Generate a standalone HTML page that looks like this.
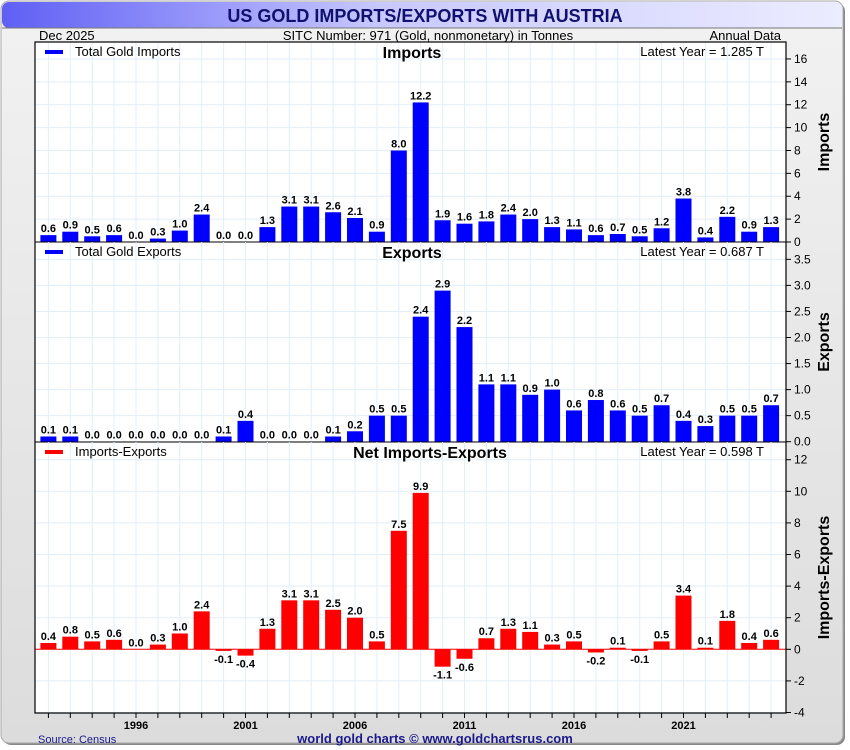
<!DOCTYPE html>
<html><head><meta charset="utf-8"><style>
body{margin:0;background:#fff;font-family:"Liberation Sans",sans-serif}
svg{display:block}
</style></head><body>
<svg id="c" width="850" height="750" xmlns="http://www.w3.org/2000/svg">
<defs>
<linearGradient id="tg" x1="0" x2="1"><stop offset="0" stop-color="#5f5ff5"/><stop offset="0.45" stop-color="#c8c8ff"/><stop offset="1" stop-color="#ececff"/></linearGradient>
<linearGradient id="bg" x1="0" x2="0" y1="0" y2="1"><stop offset="0" stop-color="#f2f2f2"/><stop offset="1" stop-color="#dcdcdc"/></linearGradient>
</defs>
<rect x="3" y="3" width="842" height="742" rx="8" fill="#888"/>
<rect x="1" y="1" width="842" height="742" rx="8" fill="url(#bg)" stroke="#aaa"/>
<rect x="2" y="2" width="840" height="26" rx="7" fill="url(#tg)"/>
<line x1="2" y1="28" x2="842" y2="28" stroke="#777"/>
<text x="425" y="22" text-anchor="middle" font-size="18" font-weight="bold" fill="#10106e">US GOLD IMPORTS/EXPORTS WITH AUSTRIA</text>
<text x="39" y="40" font-size="13" fill="#000">Dec  2025</text>
<text x="428" y="40" text-anchor="middle" font-size="13">SITC Number: 971 (Gold, nonmonetary) in Tonnes</text>
<text x="781" y="40" text-anchor="end" font-size="13">Annual Data</text>
<rect x="35" y="42" width="751" height="671" fill="#fff"/>
<g id="g"></g>
<text x="38" y="743" font-size="11" fill="#1a1a8c">Source: Census</text>
<text x="435" y="743" text-anchor="middle" font-size="13" font-weight="bold" fill="#1a1a8c">world gold charts © www.goldchartsrus.com</text>
</svg>
<script>
const years=[1992,1993,1994,1995,1996,1997,1998,1999,2000,2001,2002,2003,2004,2005,2006,2007,2008,2009,2010,2011,2012,2013,2014,2015,2016,2017,2018,2019,2020,2021,2022,2023,2024,2025];
const imports=[0.6,0.9,0.5,0.6,0.0,0.3,1.0,2.4,0.0,0.0,1.3,3.1,3.1,2.6,2.1,0.9,8.0,12.2,1.9,1.6,1.8,2.4,2.0,1.3,1.1,0.6,0.7,0.5,1.2,3.8,0.4,2.2,0.9,1.3];
const exportsV=[0.1,0.1,0.0,0.0,0.0,0.0,0.0,0.0,0.1,0.4,0.0,0.0,0.0,0.1,0.2,0.5,0.5,2.4,2.9,2.2,1.1,1.1,0.9,1.0,0.6,0.8,0.6,0.5,0.7,0.4,0.3,0.5,0.5,0.7];
const net=[0.4,0.8,0.5,0.6,0.0,0.3,1.0,2.4,-0.1,-0.4,1.3,3.1,3.1,2.5,2.0,0.5,7.5,9.9,-1.1,-0.6,0.7,1.3,1.1,0.3,0.5,-0.2,0.1,-0.1,0.5,3.4,0.1,1.8,0.4,0.6];
const impTicks=[0,2,4,6,8,10,12,14,16];
const expTicks=[0,0.5,1,1.5,2,2.5,3,3.5];
const netTicks=[-4,-2,0,2,4,6,8,10,12];
const yearLabels=[1996,2001,2006,2011,2016,2021];
const NS="http://www.w3.org/2000/svg";
const g=document.getElementById('g');
const L=35,R=786;
function x(yr){return 48.4+(yr-1992)*21.9;}
function mk(t,a,p){const e=document.createElementNS(NS,t);for(const k in a)e.setAttribute(k,a[k]);(p||g).appendChild(e);return e;}
const panels=[
 {vals:imports,ticks:impTicks,top:42,bot:242,zero:242,ppu:11.44,color:'#0000ff',fmt:v=>v,name:'imports',title:'Imports',legend:'Total Gold Imports',latest:'Latest Year = 1.285 T',axis:'Imports'},
 {vals:exportsV,ticks:expTicks,top:242,bot:442,zero:441.7,ppu:52.1,color:'#0000ff',fmt:v=>v.toFixed(1),name:'exports',title:'Exports',legend:'Total Gold Exports',latest:'Latest Year = 0.687 T',axis:'Exports'},
 {vals:net,ticks:netTicks,top:442,bot:713,zero:649.3,ppu:15.8,color:'#ff0000',fmt:v=>v,name:'net',title:'Net Imports-Exports',legend:'Imports-Exports',latest:'Latest Year = 0.598 T',axis:'Imports-Exports'}
];
panels.forEach(p=>{
 const y=v=>p.zero-v*p.ppu;
 years.forEach(yr=>{const l=mk('line',{x1:x(yr),x2:x(yr),y1:p.top,y2:p.bot,stroke:'#e2eef8'});});
 p.ticks.forEach(t=>{const yy=y(t);
  if(yy>p.top+1){const l=mk('line',{x1:L,x2:R,y1:yy,y2:yy,stroke:'#e2eef8'});}
  mk('line',{x1:R,x2:R+5,y1:yy,y2:yy,stroke:'#000'});
  const tl=mk('text',{x:R+8,y:yy+4,'font-size':12});tl.textContent=p.fmt(t);
  
 });
 p.vals.forEach((v,i)=>{
  const cx=x(years[i]),y0=y(0),y1=y(v);
  const b=mk('rect',{x:cx-8,y:Math.min(y0,y1),width:16,height:Math.max(Math.abs(y1-y0),v===0?0:1),fill:p.color});
  
  const t=mk('text',{x:cx,y:v<0?y1+12:y1-3,'text-anchor':'middle','font-size':11,'font-weight':'bold',fill:'#000'});
  t.textContent=v.toFixed(1);
  
 });
 if(p.name==='net'){mk('line',{x1:L,x2:R,y1:y(0),y2:y(0),stroke:'#ff0000'});}
 mk('line',{x1:L,x2:R,y1:p.bot,y2:p.bot,stroke:'#000'});
 const lg=mk('line',{x1:45,x2:63,y1:p.top+10,y2:p.top+10,stroke:p.color,'stroke-width':4});
 
 const lt=mk('text',{x:75,y:p.top+14,'font-size':13});lt.textContent=p.legend;
 
 const tt=mk('text',{x:p.name==='net'?430:412,y:p.top+16,'text-anchor':'middle','font-size':16,'font-weight':'bold'});tt.textContent=p.title;
 
 const la=mk('text',{x:764,y:p.top+14,'text-anchor':'end','font-size':13});la.textContent=p.latest;
 
 const cy=(p.top+p.bot)/2;
 const at=mk('text',{x:829,y:cy,'text-anchor':'middle','font-size':16,'font-weight':'bold',transform:'rotate(-90 829 '+cy+')'});at.textContent=p.axis;
 
});
mk('rect',{x:L,y:42,width:R-L,height:671,fill:'none',stroke:'#000','stroke-width':1.2});
years.forEach(yr=>{mk('line',{x1:x(yr),x2:x(yr),y1:713,y2:718,stroke:'#000'});});
yearLabels.forEach(yr=>{const t=mk('text',{x:x(yr),y:729,'text-anchor':'middle','font-size':11,'font-weight':'bold'});t.textContent=yr;
 });
</script>
</body></html>
